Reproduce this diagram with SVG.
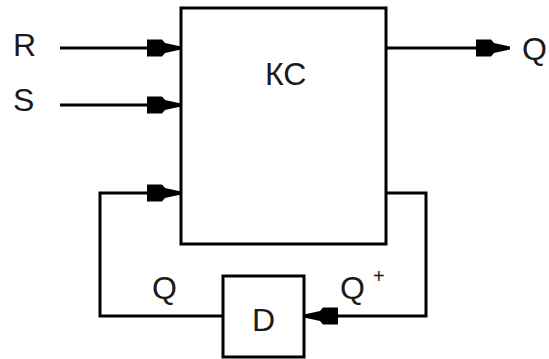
<svg xmlns="http://www.w3.org/2000/svg" width="549" height="359" viewBox="0 0 549 359">
<style>
.ln{fill:none;stroke:#000;stroke-width:3}
.bx{fill:#fff;stroke:#000;stroke-width:3}
.t{font-family:"Liberation Sans",Arial,sans-serif;font-size:32px;fill:#1a1a1a}
.sup{font-family:"Liberation Sans",Arial,sans-serif;font-size:20px;fill:#1a1a1a}
.ah{fill:#000}
</style>
<defs>
<path id="arr" d="M-34,-8.5 L-19,-8.5 L-16,-5 L0,-1.5 L0,1.5 L-16,5 L-19,8.5 L-34,8.5 Z"/>
</defs>
<g id="connectors">
<path class="ln" d="M60,48 H180"/>
<path class="ln" d="M60,105 H180"/>
<path class="ln" d="M386,48 H508"/>
<path class="ln" d="M386,193 H426 V316 H306"/>
<path class="ln" d="M223,316 H100 V193 H180"/>
<use href="#arr" class="ah" transform="translate(181,48)"/>
<use href="#arr" class="ah" transform="translate(181,105)"/>
<use href="#arr" class="ah" transform="translate(181,193)"/>
<use href="#arr" class="ah" transform="translate(510,48)"/>
<use href="#arr" class="ah" transform="translate(304,316) rotate(180)"/>
</g>
<g id="node-KC">
<rect class="bx" x="181" y="8" width="205" height="236"/>
<text class="t" x="265" y="85">КС</text>
</g>
<g id="node-D">
<rect class="bx" x="223" y="276" width="81" height="81"/>
<text class="t" x="252" y="331">D</text>
</g>
<g id="labels">
<text class="t" x="13" y="56">R</text>
<text class="t" x="13" y="111">S</text>
<text class="t" x="522" y="60">Q</text>
<text class="t" x="152" y="299">Q</text>
<text class="t" x="340" y="299">Q</text>
<text class="sup" x="373" y="283">+</text>
</g>
</svg>
